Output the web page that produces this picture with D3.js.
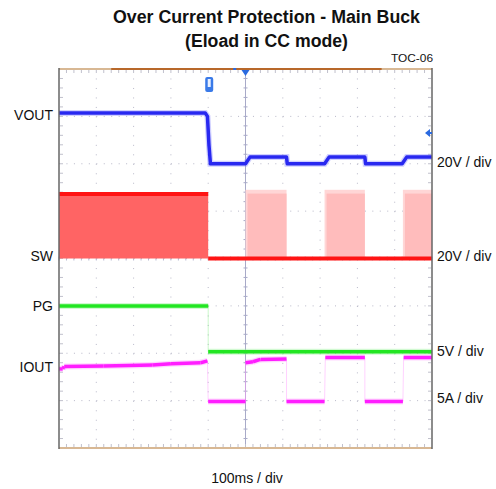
<!DOCTYPE html>
<html>
<head>
<meta charset="utf-8">
<script src="https://d3js.org/d3.v7.min.js"></script>
<style>
  body { margin: 0; background: #fff; }
  text { font-family: "Liberation Sans", Arial, sans-serif; fill: #111; }
</style>
</head>
<body>
<svg id="chart"></svg>
<script>
// time in ms (100ms / div), level in screen divisions from centre line
var voutPts = [[0,3.07],[392,3.07],[398,3.0],[402,2.4],[406,2.0],[500,2.0],[512,2.14],[610,2.14],[612,2.0],[712,2.0],[724,2.14],[820,2.14],[822,2.0],[920,2.0],[932,2.14],[1000,2.14]];
var swBursts = [[0,400,1.36,"dense"],[500,610,1.45,"light"],[712,820,1.45,"light"],[922,1000,1.45,"light"]];
var swBase = 0;
var pgPts = [[0,-1.0],[400,-1.0],[400,-1.97],[1000,-1.97]];
var ioutPts = [[0,-2.33],[10,-2.33],[14,-2.28],[120,-2.27],[250,-2.25],[300,-2.22],[380,-2.2],[398,-2.16],[400,-3.02],[500,-3.02],[500,-2.2],[520,-2.18],[540,-2.13],[610,-2.12],[610,-3.02],[712,-3.02],[714,-2.09],[820,-2.09],[820,-3.02],[922,-3.02],[924,-2.09],[1000,-2.09]];
var leftLabels = [["VOUT",3.02],["SW",0.05],["PG",-1.0],["IOUT",-2.28]];
var rightLabels = [["20V / div",2.03],["20V / div",0.05],["5V / div",-1.95],["5A / div",-2.94]];
var titleLines = ["Over Current Protection - Main Buck","(Eload in CC mode)"];
var timeLabel = "100ms / div";
var tocLabel = "TOC-06";

var width = 496, height = 489;
var L = 59, R = 432, T = 69, B = 448;

var svg = d3.select("#chart").attr("width", width).attr("height", height);

var x = d3.scaleLinear().domain([0, 1000]).range([L, R]);
var y = d3.scaleLinear().domain([-4, 4]).range([B, T]);

// title
svg.append("text").attr("x", 266.5).attr("y", 23).attr("text-anchor", "middle")
  .style("font-size", "18px").style("font-weight", "bold")
  .attr("textLength", 307).attr("lengthAdjust", "spacingAndGlyphs").text(titleLines[0]);
svg.append("text").attr("x", 266.5).attr("y", 47).attr("text-anchor", "middle")
  .style("font-size", "18px").style("font-weight", "bold")
  .attr("textLength", 163).attr("lengthAdjust", "spacingAndGlyphs").text(titleLines[1]);
svg.append("text").attr("x", 433).attr("y", 62).attr("text-anchor", "end")
  .style("font-size", "11px").attr("textLength", 42).attr("lengthAdjust", "spacingAndGlyphs").text(tocLabel);

// grid
var g = svg.append("g");
g.selectAll(".vgrid").data(d3.range(100, 1000, 100).filter(function(d){ return d != 500; }))
  .enter().append("line")
  .attr("x1", function(d){ return x(d); }).attr("x2", function(d){ return x(d); })
  .attr("y1", T).attr("y2", B)
  .style("stroke", "#b8b8c8").style("stroke-width", 1).style("stroke-dasharray", "1,8.48");
g.selectAll(".hgrid").data(d3.range(-3, 4, 1))
  .enter().append("line")
  .attr("x1", L).attr("x2", R)
  .attr("y1", function(d){ return y(d); }).attr("y2", function(d){ return y(d); })
  .style("stroke", "#b8b8c8").style("stroke-width", 1).style("stroke-dasharray", "1,6.46");

// centre axes with minor ticks
g.append("line").attr("x1", x(500)).attr("x2", x(500)).attr("y1", T).attr("y2", B)
  .style("stroke", "#a8aac8").style("stroke-width", 1);
g.selectAll(".ctx").data(d3.range(-4, 4.01, 0.2)).enter().append("line")
  .attr("x1", x(500) - 2).attr("x2", x(500) + 2)
  .attr("y1", function(d){ return y(d); }).attr("y2", function(d){ return y(d); })
  .style("stroke", "#a8aac8").style("stroke-width", 1);
g.selectAll(".cty").data(d3.range(0, 1000.1, 20)).enter().append("line")
  .attr("x1", function(d){ return x(d); }).attr("x2", function(d){ return x(d); })
  .attr("y1", y(0) - 2).attr("y2", y(0) + 2)
  .style("stroke", "#b8bad0").style("stroke-width", 1);
// edge minor ticks
[T + 2.5, B - 2.5].forEach(function(yy){
  g.selectAll(null).data(d3.range(20, 1000, 20)).enter().append("line")
    .attr("x1", function(d){ return x(d); }).attr("x2", function(d){ return x(d); })
    .attr("y1", yy - 1.5).attr("y2", yy + 1.5)
    .style("stroke", "#c0c0cc").style("stroke-width", 1);
});
[L + 2.5, R - 2.5].forEach(function(xx){
  g.selectAll(null).data(d3.range(-3.8, 4, 0.2)).enter().append("line")
    .attr("x1", xx - 1.5).attr("x2", xx + 1.5)
    .attr("y1", function(d){ return y(d); }).attr("y2", function(d){ return y(d); })
    .style("stroke", "#c0c0cc").style("stroke-width", 1);
});

// SW bursts
swBursts.forEach(function(b){
  var x0 = x(b[0]), x1 = x(b[1]);
  if (b[3] == "dense") {
    svg.append("rect").attr("x", x0).attr("y", y(b[2])).attr("width", x1 - x0).attr("height", y(swBase) - y(b[2]))
      .style("fill", "#ff6464");
    svg.append("line").attr("x1", x0).attr("x2", x1).attr("y1", y(b[2])).attr("y2", y(b[2]))
      .style("stroke", "#ff1414").style("stroke-width", 4);
  } else {
    svg.append("rect").attr("x", x0).attr("y", y(b[2])).attr("width", x1 - x0).attr("height", y(swBase) - y(b[2]))
      .style("fill", "#ffd6d6");
    svg.append("rect").attr("x", x0 + 2).attr("y", y(b[2] - 0.08)).attr("width", x1 - x0 - 2).attr("height", y(swBase) - y(b[2] - 0.08))
      .style("fill", "#ffbcbc");
  }
});
svg.append("line").attr("x1", x(400)).attr("x2", R).attr("y1", y(swBase)).attr("y2", y(swBase))
  .style("stroke", "#ff1414").style("stroke-width", 4);

var line = d3.line().x(function(d){ return x(d[0]); }).y(function(d){ return y(d[1]); });

function trace(pts, color, halo) {
  svg.append("path").datum(pts).attr("d", line)
    .style("fill", "none").style("stroke", halo).style("stroke-width", 6).style("opacity", 0.35);
  svg.append("path").datum(pts).attr("d", line)
    .style("fill", "none").style("stroke", color).style("stroke-width", 3.5).style("stroke-linejoin", "round");
}
function stepTrace(pts, color, halo) {
  // thin faint transitions, thick levels
  svg.append("path").datum(pts).attr("d", line)
    .style("fill", "none").style("stroke", halo).style("stroke-width", 1).style("opacity", 0.45);
  for (var i = 0; i < pts.length - 1; i++) {
    if (pts[i][0] == pts[i + 1][0]) continue;
    if (Math.abs(pts[i][1] - pts[i + 1][1]) > 0.3) continue;
    var seg = [pts[i], pts[i + 1]];
    svg.append("path").datum(seg).attr("d", line)
      .style("fill", "none").style("stroke", halo).style("stroke-width", 6).style("opacity", 0.4);
    svg.append("path").datum(seg).attr("d", line)
      .style("fill", "none").style("stroke", color).style("stroke-width", 3.5).style("stroke-linecap", "butt");
  }
}

trace(voutPts, "#2828f0", "#7878ff");
stepTrace(pgPts, "#22e622", "#8cf08c");
stepTrace(ioutPts, "#ff1eff", "#ff9cff");

// frame
svg.append("line").attr("x1", L).attr("x2", R).attr("y1", T).attr("y2", T).style("stroke", "#d8b894").style("stroke-width", 2);
svg.append("line").attr("x1", x(140)).attr("x2", x(865)).attr("y1", T).attr("y2", T).style("stroke", "#b8682a").style("stroke-width", 2);
svg.append("line").attr("x1", L).attr("x2", R).attr("y1", B).attr("y2", B).style("stroke", "#d8b894").style("stroke-width", 2);
svg.append("line").attr("x1", L).attr("x2", L).attr("y1", T - 1).attr("y2", B + 1).style("stroke", "#666").style("stroke-width", 1.5);
svg.append("line").attr("x1", R).attr("x2", R).attr("y1", T - 1).attr("y2", B + 1).style("stroke", "#666").style("stroke-width", 1.5);

// markers
svg.append("path").attr("d", "M" + (x(500) - 4) + "," + (T + 1) + "L" + (x(500) + 4) + "," + (T + 1) + "L" + x(500) + "," + (T + 7) + "Z")
  .style("fill", "#2a6ae0");
svg.append("rect").attr("x", x(467)).attr("y", T - 1).attr("width", 3).attr("height", 2).style("fill", "#2a6ae0");
svg.append("rect").attr("x", x(392)).attr("y", 77).attr("width", 8).attr("height", 15).attr("rx", 2).style("fill", "#3a7ae8");
svg.append("rect").attr("x", x(392) + 2.5).attr("y", 79).attr("width", 3).attr("height", 8).style("fill", "#e8f0ff");
svg.append("path").attr("d", "M" + (R - 7) + "," + 133 + "L" + (R - 2) + "," + 129 + "L" + (R - 2) + "," + 137 + "Z")
  .style("fill", "#2a6ae0");
svg.append("line").attr("x1", R - 3).attr("x2", R).attr("y1", 133).attr("y2", 133).style("stroke", "#2a6ae0").style("stroke-width", 2);

// channel labels
svg.selectAll(".ll").data(leftLabels).enter().append("text")
  .attr("x", 53).attr("y", function(d){ return y(d[1]) + 5; })
  .attr("text-anchor", "end").style("font-size", "14px").text(function(d){ return d[0]; });
svg.selectAll(".rl").data(rightLabels).enter().append("text")
  .attr("x", 437).attr("y", function(d){ return y(d[1]) + 5; })
  .style("font-size", "14px").text(function(d){ return d[0]; });
svg.append("text").attr("x", 247).attr("y", 483).attr("text-anchor", "middle")
  .style("font-size", "14px").text(timeLabel);
</script>
</body>
</html>
